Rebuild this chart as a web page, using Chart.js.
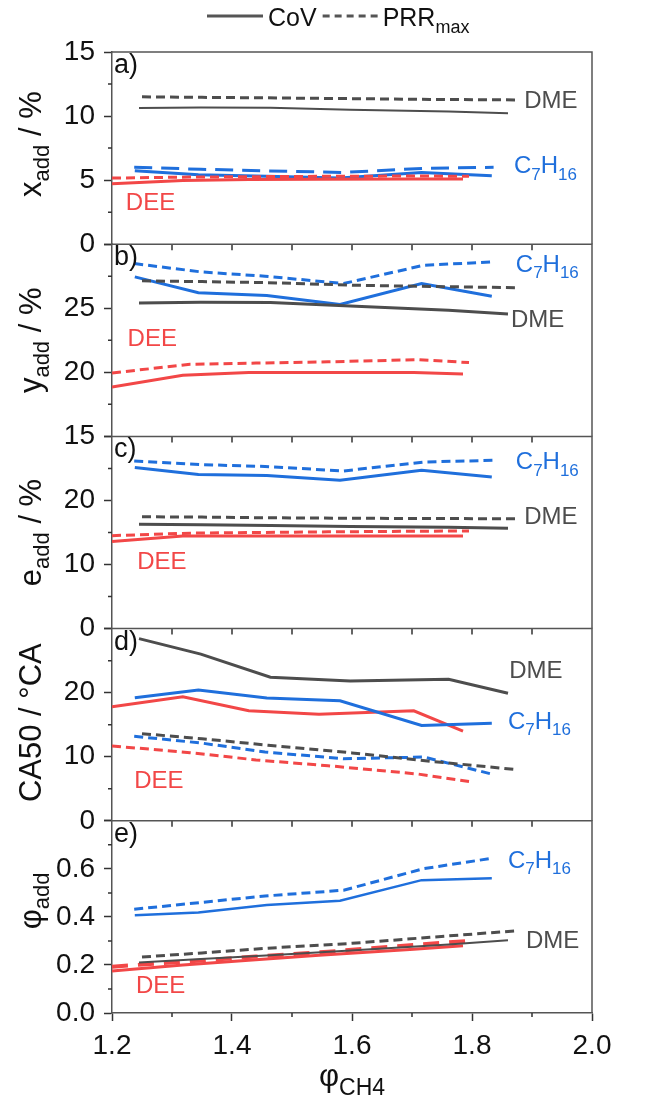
<!DOCTYPE html>
<html>
<head>
<meta charset="utf-8">
<script src="https://cdn.jsdelivr.net/npm/chart.js@4.4.0/dist/chart.umd.min.js"></script>
<style>
  html, body { margin: 0; padding: 0; background: #fff; }
  #wrap { position: relative; width: 652px; height: 1100px; }
</style>
</head>
<body>
<div id="wrap"><canvas id="chart" width="652" height="1100"></canvas></div>
<script>
const FONT = '"Liberation Sans", Arial, sans-serif';
const GREY = '#4d4d4d', BLUE = '#1f6fdc', RED = '#f24747', FRAME = '#555';

// phi_CH4 operating points, one list per fuel and limit
const phiDmeCoV = [1.245, 1.348, 1.464, 1.597, 1.761, 1.86];
const phiDmePRR = [1.25, 1.35, 1.46, 1.6, 1.73, 1.873];
const phiC7CoV  = [1.238, 1.344, 1.458, 1.58, 1.716, 1.833];
const phiC7PRR  = [1.237, 1.348, 1.455, 1.586, 1.72, 1.836];
const phiDeeCoV = [1.2, 1.318, 1.428, 1.545, 1.703, 1.785];
const phiDeePRR = [1.2, 1.33, 1.44, 1.56, 1.71, 1.795];

// a) x_add / %
const xAddDmeCoV = [10.62, 10.66, 10.64, 10.5, 10.35, 10.22];
const xAddDmePRR = [11.5, 11.46, 11.42, 11.36, 11.3, 11.26];
const xAddC7CoV  = [5.73, 5.42, 5.3, 5.16, 5.6, 5.34];
const xAddC7PRR  = [6.0, 5.85, 5.72, 5.6, 5.92, 6.0];
const xAddDeeCoV = [4.71, 4.98, 5.05, 5.06, 5.08, 5.08];
const xAddDeePRR = [5.16, 5.24, 5.27, 5.3, 5.32, 5.3];

// b) y_add / %
const yAddDmeCoV = [25.41, 25.46, 25.45, 25.18, 24.84, 24.55];
const yAddDmePRR = [27.14, 27.08, 27.0, 26.8, 26.7, 26.61];
const yAddC7CoV  = [27.45, 26.22, 26.0, 25.29, 26.93, 25.94];
const yAddC7PRR  = [28.49, 27.84, 27.5, 26.93, 28.36, 28.62];
const yAddDeeCoV = [18.85, 19.77, 19.98, 19.99, 19.98, 19.87];
const yAddDeePRR = [19.95, 20.63, 20.72, 20.82, 20.99, 20.76];

// c) e_add / %
const eAddDmeCoV = [16.27, 16.2, 16.1, 15.95, 15.8, 15.65];
const eAddDmePRR = [17.46, 17.4, 17.3, 17.22, 17.18, 17.15];
const eAddC7CoV  = [25.13, 24.04, 23.9, 23.16, 24.72, 23.68];
const eAddC7PRR  = [26.16, 25.6, 25.3, 24.61, 26.0, 26.27];
const eAddDeeCoV = [13.58, 14.46, 14.46, 14.46, 14.46, 14.46];
const eAddDeePRR = [14.51, 14.9, 15.0, 15.1, 15.2, 15.23];

// d) CA50 / °CA
const ca50DmeCoV = [28.43, 26.02, 22.41, 21.83, 22.09, 19.9];
const ca50DmePRR = [13.6, 12.8, 11.8, 10.6, 9.3, 8.0];
const ca50C7CoV  = [19.2, 20.42, 19.16, 18.74, 14.87, 15.23];
const ca50C7PRR  = [13.19, 12.15, 10.74, 9.69, 9.95, 7.22];
const ca50DeeCoV = [17.8, 19.37, 17.17, 16.65, 17.17, 13.98];
const ca50DeePRR = [11.68, 10.64, 9.5, 8.6, 7.3, 6.13];

// e) phi_add
const phiAddDmeCoV = [0.21, 0.225, 0.24, 0.26, 0.285, 0.303];
const phiAddDmePRR = [0.233, 0.25, 0.27, 0.29, 0.315, 0.342];
const phiAddC7CoV  = [0.407, 0.418, 0.45, 0.467, 0.553, 0.561];
const phiAddC7PRR  = [0.432, 0.46, 0.487, 0.511, 0.601, 0.645];
const phiAddDeeCoV = [0.175, 0.2, 0.22, 0.24, 0.265, 0.28];
const phiAddDeePRR = [0.193, 0.215, 0.235, 0.255, 0.285, 0.3];

const xTickLabels = [1.2, 1.4, 1.6, 1.8, 2.0];
const xMinorTicks = [1.3, 1.5, 1.7, 1.9];

// fuel names, split into [text, subscript?] pieces
const fuelNames = {
  DME: [['DME']],
  C7H16: [['C'], ['7', 1], ['H'], ['16', 1]],
  DEE: [['DEE']]
};
const fuelColors = { DME: GREY, C7H16: BLUE, DEE: RED };

// one entry per panel, top to bottom
const panels = [
  { id: 'ya', letter: 'a)', min: 0, max: 15, step: 5, minor: 2.5, digits: 0, showTop: true,
    title: [['x'], ['add', 1], [' / %']], titleShift: -4,
    names: [['DME', 1.887, 10.6], ['C7H16', 1.870, 5.52], ['DEE', 1.223, 2.68]] },
  { id: 'yb', letter: 'b)', min: 15, max: 30, step: 5, minor: 2.5, digits: 0,
    title: [['y'], ['add', 1], [' / %']], titleShift: 0,
    names: [['C7H16', 1.873, 27.84], ['DME', 1.865, 23.55], ['DEE', 1.226, 22.04]] },
  { id: 'yc', letter: 'c)', min: 0, max: 30, step: 10, minor: 5, digits: 0,
    title: [['e'], ['add', 1], [' / %']], titleShift: 0,
    names: [['C7H16', 1.873, 24.85], ['DME', 1.887, 16.32], ['DEE', 1.242, 9.25]] },
  { id: 'yd', letter: 'd)', min: 0, max: 30, step: 10, minor: 5, digits: 0,
    title: [['CA50 / °CA']], titleShift: -2,
    names: [['DME', 1.862, 22.34], ['C7H16', 1.860, 14.34], ['DEE', 1.237, 5.18]] },
  { id: 'ye', letter: 'e)', min: 0, max: 0.8, step: 0.2, minor: 0.1, digits: 1,
    title: [['φ'], ['add', 1]], titleShift: -16,
    names: [['C7H16', 1.860, 0.604], ['DME', 1.890, 0.272], ['DEE', 1.240, 0.082]] }
];

function series(axis, xs, ys, color, dashed, extra) {
  return Object.assign({
    data: xs.map((x, i) => ({ x: x, y: ys[i] })),
    yAxisID: axis,
    borderColor: color,
    borderWidth: 3,
    borderDash: dashed ? [9, 5] : [],
    pointRadius: 0,
    tension: 0,
    fill: false
  }, extra || {});
}

const datasets = [
  series('ya', phiDmePRR, xAddDmePRR, GREY, true),
  series('ya', phiDmeCoV, xAddDmeCoV, GREY, false, { borderWidth: 2 }),
  series('ya', phiC7PRR, xAddC7PRR, BLUE, true, { borderDash: [18, 9] }),
  series('ya', phiDeePRR, xAddDeePRR, RED, true),
  series('ya', phiDeeCoV, xAddDeeCoV, RED, false),
  series('ya', phiC7CoV, xAddC7CoV, BLUE, false),

  series('yb', phiDmePRR, yAddDmePRR, GREY, true),
  series('yb', phiDmeCoV, yAddDmeCoV, GREY, false),
  series('yb', phiC7PRR, yAddC7PRR, BLUE, true),
  series('yb', phiC7CoV, yAddC7CoV, BLUE, false),
  series('yb', phiDeePRR, yAddDeePRR, RED, true),
  series('yb', phiDeeCoV, yAddDeeCoV, RED, false),

  series('yc', phiDmePRR, eAddDmePRR, GREY, true),
  series('yc', phiDmeCoV, eAddDmeCoV, GREY, false),
  series('yc', phiC7PRR, eAddC7PRR, BLUE, true),
  series('yc', phiC7CoV, eAddC7CoV, BLUE, false),
  series('yc', phiDeePRR, eAddDeePRR, RED, true),
  series('yc', phiDeeCoV, eAddDeeCoV, RED, false),

  series('yd', phiDmePRR, ca50DmePRR, GREY, true),
  series('yd', phiDmeCoV, ca50DmeCoV, GREY, false),
  series('yd', phiC7PRR, ca50C7PRR, BLUE, true),
  series('yd', phiC7CoV, ca50C7CoV, BLUE, false),
  series('yd', phiDeePRR, ca50DeePRR, RED, true),
  series('yd', phiDeeCoV, ca50DeeCoV, RED, false),

  series('ye', phiDmePRR, phiAddDmePRR, GREY, true),
  series('ye', phiDmeCoV, phiAddDmeCoV, GREY, false, { borderWidth: 2 }),
  series('ye', phiC7PRR, phiAddC7PRR, BLUE, true),
  series('ye', phiC7CoV, phiAddC7CoV, BLUE, false, { borderWidth: 2.5 }),
  series('ye', phiDeePRR, phiAddDeePRR, RED, true, { borderDash: [16, 10], borderWidth: 4 }),
  series('ye', phiDeeCoV, phiAddDeeCoV, RED, false)
];

// stacked y axes: the last one added ends up on top
const scales = {
  x: {
    type: 'linear', position: 'bottom', min: 1.2, max: 2.0,
    afterFit: s => { s.height = 87; },
    afterBuildTicks: s => { s.ticks = xTickLabels.map(v => ({ value: v })); },
    ticks: { color: '#111', padding: 8, font: { family: FONT, size: 28 },
             callback: v => Number(v).toFixed(1) },
    grid: { drawOnChartArea: false, tickLength: 8, tickColor: '#333', tickWidth: 1.5 },
    border: { color: FRAME, width: 1.5 }
  }
};
panels.slice().reverse().forEach(p => {
  scales[p.id] = {
    type: 'linear', position: 'left', stack: 'panels', stackWeight: 1,
    min: p.min, max: p.max,
    afterFit: s => { s.width = 112; },
    afterBuildTicks: s => {
      const t = [];
      for (let v = p.min; v <= p.max + 1e-9; v += p.step) t.push({ value: +v.toFixed(3) });
      s.ticks = t;
    },
    ticks: {
      color: '#111', padding: 9, autoSkip: false, font: { family: FONT, size: 28 },
      callback: v => (!p.showTop && Math.abs(v - p.max) < 1e-9) ? '' : Number(v).toFixed(p.digits)
    },
    grid: { drawOnChartArea: false, tickLength: 8, tickColor: '#333', tickWidth: 1.5 },
    border: { color: FRAME, width: 1.5 }
  };
});

// text with subscripts, parts = [[text, isSub], ...]
function drawRich(ctx, parts, x, y, size, align) {
  const subSize = Math.round(size * 0.72);
  const shift = size * 0.26;
  const widths = parts.map(([t, sub]) => {
    ctx.font = (sub ? subSize : size) + 'px ' + FONT;
    return ctx.measureText(t).width;
  });
  const total = widths.reduce((a, b) => a + b, 0);
  let cx = align === 'center' ? x - total / 2 : x;
  ctx.textAlign = 'left';
  ctx.textBaseline = 'alphabetic';
  parts.forEach(([t, sub], i) => {
    ctx.font = (sub ? subSize : size) + 'px ' + FONT;
    ctx.fillText(t, cx, sub ? y + shift : y);
    cx += widths[i];
  });
  return cx;
}

const decorations = {
  id: 'decorations',
  afterDraw(chart) {
    const { ctx, chartArea: area, scales: sc } = chart;
    const xs = sc.x;
    ctx.save();

    panels.forEach((p, i) => {
      const s = sc[p.id];
      // top and right edges of the panel box
      ctx.strokeStyle = FRAME;
      ctx.lineWidth = 1.5;
      ctx.beginPath();
      ctx.moveTo(area.left, s.top);
      ctx.lineTo(area.right, s.top);
      ctx.lineTo(area.right, s.bottom);
      ctx.stroke();

      // minor ticks on the y axis
      ctx.strokeStyle = '#333';
      ctx.beginPath();
      for (let v = p.min + p.minor; v < p.max; v += p.step) {
        const y = s.getPixelForValue(v);
        ctx.moveTo(area.left - 4, y);
        ctx.lineTo(area.left, y);
      }
      ctx.stroke();

      // x ticks hanging below panels a-d
      if (i < panels.length - 1) {
        ctx.beginPath();
        for (let k = 1; k < 8; k++) {
          const px = xs.getPixelForValue(1.2 + k * 0.1);
          ctx.moveTo(px, s.bottom);
          ctx.lineTo(px, s.bottom + 6);
        }
        ctx.stroke();
      }

      // panel letter
      ctx.fillStyle = '#111';
      ctx.font = '27px ' + FONT;
      ctx.textAlign = 'left';
      ctx.textBaseline = 'alphabetic';
      ctx.fillText(p.letter, area.left + 2, s.top + 21);

      // fuel names next to the curves
      p.names.forEach(([fuel, fx, fy]) => {
        ctx.fillStyle = fuelColors[fuel];
        drawRich(ctx, fuelNames[fuel], xs.getPixelForValue(fx), s.getPixelForValue(fy), 24, 'left');
      });

      // rotated y title
      ctx.save();
      ctx.fillStyle = '#111';
      ctx.translate(41, (s.top + s.bottom) / 2 + p.titleShift);
      ctx.rotate(-Math.PI / 2);
      drawRich(ctx, p.title, 0, 0, 31, 'center');
      ctx.restore();
    });

    // minor ticks on the bottom axis
    ctx.strokeStyle = '#333';
    ctx.lineWidth = 1.5;
    ctx.beginPath();
    xMinorTicks.forEach(v => {
      const px = xs.getPixelForValue(v);
      ctx.moveTo(px, area.bottom);
      ctx.lineTo(px, area.bottom + 4);
    });
    ctx.stroke();

    // x title
    ctx.fillStyle = '#111';
    const midX = (area.left + area.right) / 2;
    ctx.font = '31px ' + FONT;
    const phiW = ctx.measureText('φ').width;
    ctx.font = '23px ' + FONT;
    const subW = ctx.measureText('CH4').width;
    const tx = midX - (phiW + subW) / 2;
    ctx.font = '31px ' + FONT;
    ctx.textAlign = 'left';
    ctx.fillText('φ', tx, 1086);
    ctx.font = '23px ' + FONT;
    ctx.fillText('CH4', tx + phiW, 1095);

    // legend
    const ly = 16;
    let lx = 207;
    ctx.strokeStyle = FRAME;
    ctx.lineWidth = 3;
    ctx.beginPath();
    ctx.moveTo(lx, ly); ctx.lineTo(lx + 56, ly);
    ctx.stroke();
    lx += 61;
    ctx.fillStyle = '#111';
    lx = drawRich(ctx, [['CoV']], lx, 26, 25, 'left') + 6;
    ctx.setLineDash([7, 5]);
    ctx.beginPath();
    ctx.moveTo(lx, ly); ctx.lineTo(lx + 55, ly);
    ctx.stroke();
    ctx.setLineDash([]);
    lx += 60;
    drawRich(ctx, [['PRR'], ['max', 1]], lx, 26, 25, 'left');

    ctx.restore();
  }
};

new Chart(document.getElementById('chart'), {
  type: 'line',
  data: { datasets: datasets },
  options: {
    responsive: false,
    animation: false,
    devicePixelRatio: 1,
    layout: { padding: { top: 52, right: 60, bottom: 0, left: 0 } },
    plugins: { legend: { display: false }, tooltip: { enabled: false } },
    scales: scales
  },
  plugins: [decorations]
});
</script>
</body>
</html>
